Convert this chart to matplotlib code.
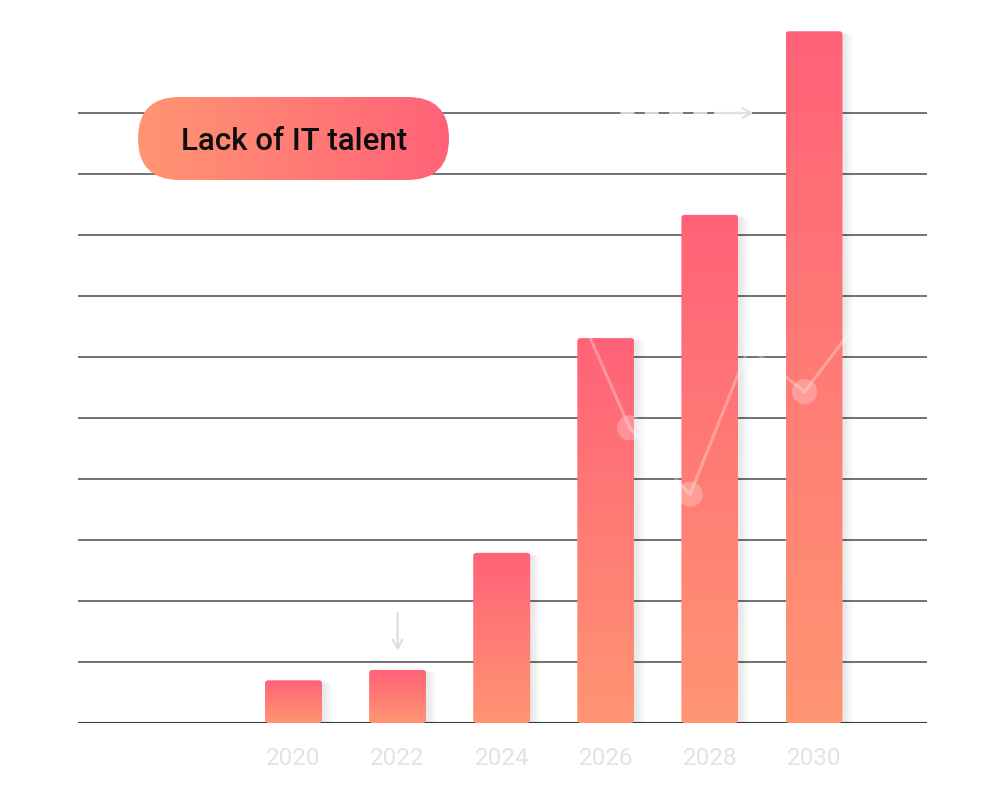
import numpy as np
import matplotlib
matplotlib.use("Agg")
import matplotlib.pyplot as plt
from matplotlib.patches import FancyBboxPatch
from matplotlib.colors import LinearSegmentedColormap

# ---- data ----
years = ["2020", "2022", "2024", "2026", "2028", "2030"]
values = [0.70, 0.87, 2.79, 6.31, 8.33, 11.34]
# faint decorative line overlay (x in category units, y in value units)
line_x = [2.75, 3.23, 3.81, 4.375, 4.91, 5.54]
line_y = [6.70, 4.84, 3.75, 6.16, 5.43, 6.85]
marker_x = [3.23, 3.81, 4.91]
marker_y = [4.84, 3.75, 5.43]
title_text = "Lack of IT talent"

PINK = (1.0, 0.385, 0.47)
ORANGE = (1.0, 0.585, 0.45)

fig = plt.figure(figsize=(10, 7.86), dpi=100)
fig.patch.set_facecolor("white")

W, H = 1000, 786
left, right, top_px, base_px = 78, 927, 20, 723
ax = fig.add_axes([left / W, 1 - base_px / H, (right - left) / W, (base_px - top_px) / H])
xs = np.arange(len(years))
step = 104.1  # px per category
unit = 61.0   # px per value unit
ax.set_xlim((left - 293.5) / step, (right - 293.5) / step)
ax.set_ylim(0, (base_px - top_px) / unit)
for s in ax.spines.values():
    s.set_visible(False)
ax.set_yticks([])
ax.set_xticks(xs)
ax.set_xticklabels(years, fontsize=17.5, color="#e3e3e3", family="Roboto")
ax.tick_params(axis="x", length=0, pad=17)

# gridlines
for g in range(1, 11):
    ax.axhline(g, color="#5a5a5a", lw=1.2, zorder=1)
ax.axhline(0, color="#3a3a3a", lw=1.5, zorder=1)

bw = 57 / step
cmap_bar = LinearSegmentedColormap.from_list("bar", [ORANGE, PINK])
grad = np.linspace(0, 1, 256).reshape(-1, 1)

for x, v in zip(xs, values):
    # soft shadow
    for k in range(1, 8):
        dx = k * 1.2 / step
        dy = k * 1.0 / unit
        sh = FancyBboxPatch((x - bw / 2 + 2 / step, -dy * 0.8), bw + dx, v + dy * 0.3,
                            boxstyle="square,pad=0", facecolor="#000000",
                            edgecolor="none", alpha=0.012, zorder=2)
        ax.add_patch(sh)
    patch = FancyBboxPatch((x - bw / 2, 0), bw, v,
                           boxstyle="round,pad=0,rounding_size=0.03",
                           mutation_aspect=step / unit,
                           facecolor="none", edgecolor="none", zorder=3)
    ax.add_patch(patch)
    im = ax.imshow(grad, extent=[x - bw / 2, x + bw / 2, 0, v], origin="lower",
                   cmap=cmap_bar, aspect="auto", zorder=3, interpolation="bicubic")
    im.set_clip_path(patch)

# faint overlay line
ax.plot(line_x, line_y, color="white", alpha=0.3, lw=2.2, zorder=4, solid_capstyle="round")
ax.scatter(marker_x, marker_y, s=330, color="white", alpha=0.25, zorder=4, edgecolors="none")

# arrows
ax.annotate("", xy=(1, (723 - 653) / unit), xytext=(1, (723 - 610) / unit),
            arrowprops=dict(arrowstyle="->,head_length=0.6,head_width=0.35",
                            color="#dcdcdc", lw=1.5), zorder=5)
ax.plot([(620 - 293.5) / step, (715 - 293.5) / step], [10, 10], color="white",
        lw=2.5, ls=(0, (4, 3)), alpha=0.7, zorder=4)
ax.annotate("", xy=((756 - 293.5) / step, 10), xytext=((712 - 293.5) / step, 10),
            arrowprops=dict(arrowstyle="->,head_length=0.6,head_width=0.35",
                            color="#e0e0e0", lw=1.6), zorder=5)

# pill label in pixel coordinates
ov = fig.add_axes([0, 0, 1, 1], zorder=10)
ov.set_xlim(0, W)
ov.set_ylim(H, 0)
ov.axis("off")
ov.patch.set_alpha(0)
px0, py0, pw, ph = 138, 97, 311, 83
pill = FancyBboxPatch((px0, py0), pw, ph, boxstyle=f"round,pad=0,rounding_size={ph/2}",
                      facecolor="none", edgecolor="none")
ov.add_patch(pill)
cmap_pill = LinearSegmentedColormap.from_list("pill", [ORANGE, PINK])
hgrad = np.linspace(0, 1, 256).reshape(1, -1)
im2 = ov.imshow(hgrad, extent=[px0, px0 + pw, py0 + ph, py0], cmap=cmap_pill,
                aspect="auto", interpolation="bicubic")
im2.set_clip_path(pill)
ov.set_xlim(0, W)
ov.set_ylim(H, 0)
ov.text(px0 + pw / 2 + 0.5, py0 + ph / 2 + 3.5, title_text, fontsize=22.5, family="Roboto",
        fontweight="medium", color="#0d0d0d", ha="center", va="center")

fig.savefig("out.png", dpi=100)
